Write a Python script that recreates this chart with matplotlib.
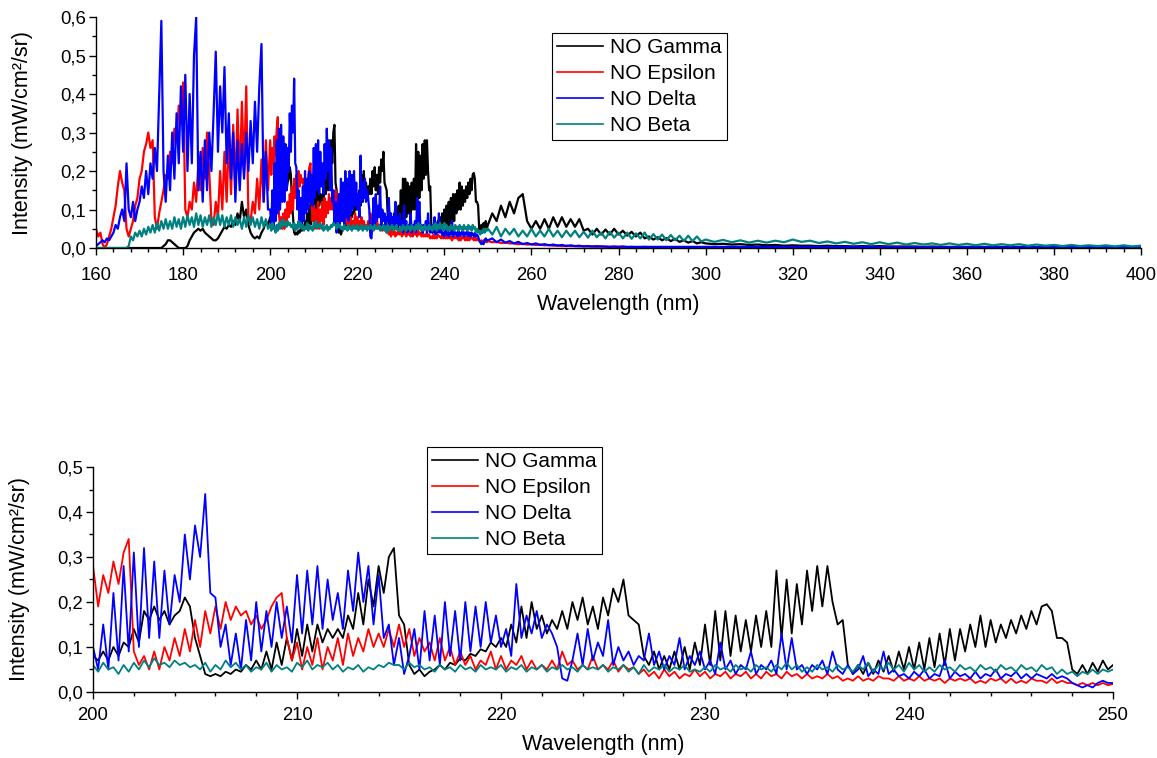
import numpy as np
import matplotlib.pyplot as plt
from matplotlib.ticker import MultipleLocator, FuncFormatter

plt.rcParams['font.family'] = ['Liberation Sans', 'DejaVu Sans']

# wavelength sampling of the read-off values (nm)
wl_a = np.arange(160, 200, 0.5)     # 80 values
wl_b = np.arange(200, 250, 0.25)    # 200 values
wl_c = np.arange(250, 300, 1.0)     # 50 values
wl_d = np.arange(300, 401, 2.0)     # 51 values

# NO Gamma
gamma_a = [0, 0, 0, 0, 0, 0, 0, 0, 0, 0, 0, 0, 0, 0, 0, 0, 0, 0, 0, 0,
           0, 0, 0, 0, 0, 0, 0, 0, 0, 0, 0, 0.005, 0.01, 0.02, 0.02, 0.015, 0.01, 0.005, 0, 0,
           0, 0, 0.005, 0.02, 0.03, 0.04, 0.045, 0.05, 0.045, 0.05, 0.04, 0.035, 0.03, 0.025, 0.02, 0.02, 0.025, 0.035, 0.045, 0.055,
           0.05, 0.06, 0.055, 0.07, 0.06, 0.09, 0.07, 0.12, 0.08, 0.10, 0.06, 0.04, 0.03, 0.025, 0.03, 0.025, 0.04, 0.05, 0.07, 0.06]
gamma_b = [0.08, 0.07, 0.09, 0.07, 0.10, 0.08, 0.11, 0.10, 0.14, 0.11, 0.18, 0.16, 0.19, 0.16, 0.18, 0.15, 0.17, 0.18, 0.21, 0.19,
           0.12, 0.08, 0.04, 0.035, 0.04, 0.035, 0.045, 0.04, 0.05, 0.045, 0.06, 0.05, 0.07, 0.05, 0.09, 0.05, 0.11, 0.06, 0.12, 0.07,
           0.14, 0.08, 0.15, 0.09, 0.15, 0.11, 0.14, 0.12, 0.14, 0.12, 0.17, 0.14, 0.22, 0.15, 0.25, 0.19, 0.28, 0.22, 0.30, 0.32,
           0.17, 0.15, 0.06, 0.04, 0.05, 0.035, 0.045, 0.05, 0.06, 0.05, 0.065, 0.06, 0.075, 0.07, 0.085, 0.08, 0.095, 0.09, 0.11, 0.10,
           0.12, 0.10, 0.15, 0.11, 0.19, 0.12, 0.20, 0.14, 0.17, 0.13, 0.16, 0.14, 0.18, 0.14, 0.20, 0.16, 0.21, 0.15, 0.19, 0.14,
           0.21, 0.17, 0.23, 0.20, 0.25, 0.17, 0.16, 0.15, 0.08, 0.06, 0.09, 0.05, 0.08, 0.05, 0.09, 0.05, 0.10, 0.05, 0.11, 0.06,
           0.15, 0.06, 0.18, 0.07, 0.18, 0.08, 0.17, 0.09, 0.16, 0.09, 0.17, 0.10, 0.18, 0.10, 0.27, 0.12, 0.25, 0.13, 0.24, 0.15,
           0.27, 0.18, 0.28, 0.19, 0.28, 0.20, 0.15, 0.16, 0.06, 0.04, 0.06, 0.04, 0.065, 0.04, 0.07, 0.045, 0.08, 0.045, 0.09, 0.05,
           0.10, 0.05, 0.11, 0.05, 0.12, 0.055, 0.13, 0.06, 0.14, 0.07, 0.14, 0.09, 0.15, 0.10, 0.17, 0.10, 0.16, 0.11, 0.15, 0.12,
           0.16, 0.13, 0.17, 0.14, 0.18, 0.15, 0.19, 0.195, 0.18, 0.12, 0.12, 0.11, 0.05, 0.04, 0.06, 0.04, 0.065, 0.045, 0.07, 0.05]
gamma_c = [0.06, 0.09, 0.07, 0.11, 0.08, 0.12, 0.09, 0.13, 0.14, 0.07,
           0.05, 0.07, 0.05, 0.075, 0.05, 0.08, 0.055, 0.08, 0.055, 0.075,
           0.055, 0.075, 0.045, 0.05, 0.035, 0.05, 0.035, 0.048, 0.035, 0.05,
           0.035, 0.045, 0.032, 0.042, 0.03, 0.04, 0.025, 0.03, 0.022, 0.028,
           0.02, 0.026, 0.018, 0.024, 0.016, 0.02, 0.014, 0.018, 0.012, 0.015]
gamma_d = [0.012, 0.01, 0.011, 0.009, 0.01, 0.008, 0.009, 0.007, 0.008, 0.006,
           0.007, 0.006, 0.006, 0.005, 0.006, 0.005, 0.005, 0.004, 0.005, 0.004,
           0.005, 0.004, 0.004, 0.004, 0.004, 0.003, 0.004, 0.003, 0.003, 0.003,
           0.003, 0.003, 0.003, 0.003, 0.003, 0.002, 0.003, 0.002, 0.002, 0.002,
           0.002, 0.002, 0.002, 0.002, 0.002, 0.002, 0.002, 0.002, 0.002, 0.002,
           0.002]

# NO Epsilon
eps_a = [0.05, 0.03, 0.04, 0.01, 0.0, 0.01, 0.03, 0.05, 0.08, 0.11, 0.16, 0.2, 0.17, 0.15, 0.05, 0.03, 0.05, 0.07, 0.11, 0.13,
         0.18, 0.2, 0.25, 0.27, 0.3, 0.26, 0.28, 0.08, 0.05, 0.09, 0.12, 0.15, 0.19, 0.18, 0.25, 0.22, 0.31, 0.28, 0.37, 0.33,
         0.43, 0.1, 0.08, 0.12, 0.1, 0.17, 0.12, 0.22, 0.15, 0.26, 0.18, 0.3, 0.2, 0.07, 0.06, 0.12, 0.08, 0.2, 0.1, 0.25,
         0.12, 0.29, 0.14, 0.32, 0.15, 0.36, 0.17, 0.38, 0.2, 0.42, 0.08, 0.07, 0.12, 0.09, 0.18, 0.1, 0.23, 0.12, 0.28, 0.15]
eps_b = [0.28, 0.19, 0.26, 0.22, 0.29, 0.24, 0.31, 0.34, 0.09, 0.06, 0.08, 0.05, 0.09, 0.05, 0.10, 0.07, 0.12, 0.08, 0.14, 0.09,
         0.16, 0.10, 0.18, 0.13, 0.19, 0.14, 0.20, 0.16, 0.19, 0.17, 0.18, 0.15, 0.17, 0.14, 0.16, 0.19, 0.21, 0.22, 0.12, 0.07,
         0.11, 0.05, 0.10, 0.06, 0.12, 0.05, 0.10, 0.07, 0.12, 0.06, 0.13, 0.08, 0.12, 0.09, 0.14, 0.10, 0.13, 0.10, 0.14, 0.10,
         0.15, 0.10, 0.14, 0.08, 0.12, 0.09, 0.11, 0.07, 0.12, 0.07, 0.10, 0.06, 0.09, 0.06, 0.08, 0.05, 0.07, 0.06, 0.09, 0.05,
         0.08, 0.05, 0.07, 0.06, 0.08, 0.05, 0.07, 0.05, 0.06, 0.05, 0.07, 0.05, 0.09, 0.06, 0.07, 0.05, 0.06, 0.05, 0.08, 0.05,
         0.06, 0.05, 0.07, 0.045, 0.06, 0.05, 0.055, 0.04, 0.05, 0.035, 0.045, 0.03, 0.05, 0.035, 0.045, 0.03, 0.04, 0.035, 0.05, 0.035,
         0.045, 0.03, 0.04, 0.035, 0.045, 0.03, 0.04, 0.035, 0.045, 0.03, 0.04, 0.03, 0.045, 0.035, 0.04, 0.03, 0.045, 0.035, 0.04, 0.03,
         0.04, 0.03, 0.035, 0.03, 0.04, 0.03, 0.035, 0.025, 0.03, 0.025, 0.035, 0.025, 0.03, 0.025, 0.035, 0.03, 0.03, 0.025, 0.035, 0.025,
         0.03, 0.025, 0.035, 0.025, 0.03, 0.025, 0.03, 0.02, 0.03, 0.025, 0.03, 0.025, 0.03, 0.02, 0.025, 0.02, 0.03, 0.025, 0.03, 0.02,
         0.03, 0.02, 0.025, 0.02, 0.03, 0.025, 0.025, 0.02, 0.03, 0.02, 0.025, 0.02, 0.02, 0.015, 0.02, 0.015, 0.02, 0.015, 0.02, 0.015]
eps_c = [0.018, 0.015, 0.016, 0.013, 0.014, 0.012, 0.012, 0.01, 0.011, 0.009,
         0.01, 0.008, 0.009, 0.007, 0.008, 0.006, 0.007, 0.005, 0.006, 0.005,
         0.005, 0.004, 0.005, 0.004, 0.004, 0.003, 0.004, 0.003, 0.003, 0.003,
         0.003, 0.003, 0.002, 0.003, 0.002, 0.002, 0.003, 0.002, 0.002, 0.002,
         0.002, 0.002, 0.002, 0.002, 0.002, 0.002, 0.002, 0.002, 0.002, 0.002]
eps_d = [0.002, 0.002, 0.002, 0.002, 0.002, 0.002, 0.002, 0.002, 0.002, 0.002,
         0.002, 0.002, 0.002, 0.002, 0.002, 0.002, 0.002, 0.002, 0.002, 0.002,
         0.002, 0.002, 0.002, 0.002, 0.002, 0.002, 0.002, 0.002, 0.002, 0.002,
         0.001, 0.001, 0.001, 0.001, 0.001, 0.001, 0.001, 0.001, 0.001, 0.001,
         0.001, 0.001, 0.001, 0.001, 0.001, 0.001, 0.001, 0.001, 0.001, 0.001,
         0.001]

# NO Delta
delta_a = [0.005, 0.01, 0.015, 0.02, 0.015, 0.025, 0.02, 0.03, 0.04, 0.06, 0.05, 0.08, 0.10, 0.07, 0.22, 0.10, 0.08, 0.12, 0.07, 0.10,
           0.12, 0.16, 0.13, 0.20, 0.14, 0.22, 0.18, 0.26, 0.20, 0.40, 0.59, 0.20, 0.12, 0.24, 0.15, 0.30, 0.18, 0.35, 0.22, 0.42,
           0.25, 0.45, 0.20, 0.40, 0.22, 0.50, 0.60, 0.15, 0.25, 0.12, 0.28, 0.15, 0.30, 0.20, 0.35, 0.51, 0.25, 0.42, 0.30, 0.47,
           0.22, 0.35, 0.18, 0.30, 0.12, 0.28, 0.15, 0.27, 0.18, 0.30, 0.20, 0.33, 0.22, 0.38, 0.25, 0.42, 0.53, 0.12, 0.25, 0.10]
delta_b = [0.10, 0.05, 0.15, 0.05, 0.22, 0.07, 0.28, 0.09, 0.31, 0.10, 0.32, 0.12, 0.29, 0.12, 0.27, 0.15, 0.26, 0.20, 0.35, 0.25,
           0.37, 0.30, 0.44, 0.22, 0.21, 0.10, 0.15, 0.06, 0.13, 0.05, 0.16, 0.07, 0.20, 0.09, 0.18, 0.10, 0.20, 0.12, 0.19, 0.11,
           0.26, 0.13, 0.27, 0.15, 0.28, 0.14, 0.25, 0.16, 0.22, 0.14, 0.27, 0.18, 0.31, 0.20, 0.28, 0.15, 0.26, 0.12, 0.15, 0.06,
           0.12, 0.04, 0.08, 0.14, 0.05, 0.18, 0.07, 0.17, 0.06, 0.20, 0.08, 0.18, 0.07, 0.20, 0.09, 0.19, 0.10, 0.20, 0.11, 0.17,
           0.10, 0.14, 0.08, 0.24, 0.12, 0.17, 0.13, 0.18, 0.12, 0.15, 0.13, 0.10, 0.03, 0.025, 0.07, 0.13, 0.06, 0.14, 0.07, 0.11,
           0.08, 0.16, 0.06, 0.10, 0.07, 0.09, 0.06, 0.08, 0.07, 0.13, 0.06, 0.09, 0.05, 0.08, 0.06, 0.12, 0.05, 0.08, 0.06, 0.09,
           0.05, 0.07, 0.04, 0.11, 0.05, 0.07, 0.04, 0.06, 0.05, 0.09, 0.04, 0.06, 0.05, 0.07, 0.04, 0.13, 0.05, 0.12, 0.05, 0.06,
           0.04, 0.06, 0.05, 0.07, 0.04, 0.09, 0.05, 0.04, 0.06, 0.04, 0.05, 0.08, 0.035, 0.05, 0.04, 0.09, 0.04, 0.05, 0.035, 0.04,
           0.03, 0.045, 0.035, 0.05, 0.03, 0.04, 0.035, 0.07, 0.03, 0.045, 0.035, 0.04, 0.03, 0.045, 0.03, 0.04, 0.035, 0.05, 0.03, 0.04,
           0.035, 0.045, 0.03, 0.04, 0.03, 0.04, 0.035, 0.03, 0.04, 0.03, 0.035, 0.03, 0.02, 0.015, 0.01, 0.015, 0.01, 0.02, 0.025, 0.02]
delta_c = [0.02, 0.025, 0.015, 0.022, 0.014, 0.018, 0.012, 0.016, 0.01, 0.013,
           0.009, 0.012, 0.008, 0.01, 0.007, 0.009, 0.006, 0.008, 0.005, 0.007,
           0.005, 0.006, 0.004, 0.005, 0.004, 0.005, 0.004, 0.004, 0.003, 0.004,
           0.003, 0.004, 0.003, 0.003, 0.003, 0.003, 0.003, 0.003, 0.003, 0.003,
           0.003, 0.003, 0.003, 0.003, 0.003, 0.003, 0.003, 0.003, 0.003, 0.003]
delta_d = [0.003, 0.003, 0.003, 0.003, 0.003, 0.003, 0.003, 0.003, 0.003, 0.003,
           0.003, 0.003, 0.003, 0.003, 0.003, 0.003, 0.003, 0.003, 0.003, 0.003,
           0.002, 0.002, 0.002, 0.002, 0.002, 0.002, 0.002, 0.002, 0.002, 0.002,
           0.002, 0.002, 0.002, 0.002, 0.002, 0.002, 0.002, 0.002, 0.002, 0.002,
           0.002, 0.002, 0.002, 0.002, 0.002, 0.002, 0.002, 0.002, 0.002, 0.002,
           0.002]

# NO Beta
beta_a = [0, 0, 0, 0, 0, 0, 0, 0, 0, 0, 0, 0, 0, 0, 0, 0.005, 0.03, 0.02, 0.04, 0.03,
          0.045, 0.03, 0.05, 0.035, 0.055, 0.04, 0.06, 0.04, 0.065, 0.045, 0.07, 0.05, 0.075, 0.05, 0.07, 0.05, 0.08, 0.055, 0.075, 0.05,
          0.08, 0.055, 0.085, 0.06, 0.08, 0.055, 0.09, 0.06, 0.085, 0.055, 0.08, 0.06, 0.085, 0.055, 0.08, 0.06, 0.09, 0.06, 0.085, 0.055,
          0.08, 0.06, 0.085, 0.055, 0.08, 0.06, 0.075, 0.05, 0.08, 0.055, 0.085, 0.06, 0.08, 0.055, 0.075, 0.05, 0.08, 0.055, 0.075, 0.05]
beta_b = [0.06, 0.045, 0.065, 0.05, 0.055, 0.04, 0.06, 0.045, 0.065, 0.05, 0.07, 0.055, 0.075, 0.06, 0.065, 0.055, 0.07, 0.06, 0.065, 0.055,
          0.06, 0.05, 0.065, 0.045, 0.06, 0.05, 0.07, 0.055, 0.065, 0.05, 0.06, 0.045, 0.055, 0.05, 0.065, 0.045, 0.06, 0.05, 0.055, 0.045,
          0.065, 0.055, 0.07, 0.05, 0.06, 0.055, 0.065, 0.05, 0.06, 0.045, 0.055, 0.05, 0.06, 0.045, 0.055, 0.05, 0.06, 0.055, 0.065, 0.06,
          0.06, 0.05, 0.065, 0.055, 0.06, 0.05, 0.055, 0.045, 0.06, 0.05, 0.055, 0.045, 0.06, 0.05, 0.055, 0.045, 0.06, 0.05, 0.055, 0.05,
          0.06, 0.045, 0.055, 0.05, 0.06, 0.045, 0.055, 0.05, 0.06, 0.045, 0.055, 0.05, 0.06, 0.05, 0.055, 0.045, 0.06, 0.05, 0.055, 0.05,
          0.06, 0.045, 0.055, 0.05, 0.06, 0.045, 0.055, 0.04, 0.06, 0.045, 0.055, 0.05, 0.06, 0.045, 0.055, 0.05, 0.06, 0.045, 0.05, 0.045,
          0.055, 0.045, 0.06, 0.05, 0.055, 0.045, 0.06, 0.05, 0.055, 0.045, 0.06, 0.05, 0.055, 0.045, 0.06, 0.05, 0.065, 0.05, 0.06, 0.045,
          0.055, 0.045, 0.06, 0.05, 0.055, 0.045, 0.06, 0.05, 0.055, 0.045, 0.06, 0.05, 0.065, 0.045, 0.06, 0.05, 0.065, 0.05, 0.06, 0.045,
          0.065, 0.05, 0.06, 0.045, 0.055, 0.045, 0.06, 0.05, 0.055, 0.045, 0.06, 0.05, 0.055, 0.045, 0.06, 0.05, 0.055, 0.045, 0.06, 0.05,
          0.055, 0.045, 0.06, 0.05, 0.055, 0.045, 0.06, 0.05, 0.055, 0.04, 0.05, 0.04, 0.045, 0.035, 0.045, 0.04, 0.05, 0.04, 0.05, 0.045]
beta_c = [0.05, 0.035, 0.055, 0.03, 0.05, 0.035, 0.05, 0.03, 0.045, 0.03,
          0.05, 0.03, 0.045, 0.03, 0.05, 0.03, 0.045, 0.028, 0.045, 0.03,
          0.045, 0.028, 0.042, 0.027, 0.045, 0.028, 0.04, 0.025, 0.042, 0.027,
          0.04, 0.025, 0.04, 0.024, 0.038, 0.025, 0.04, 0.022, 0.036, 0.022,
          0.035, 0.02, 0.034, 0.02, 0.032, 0.018, 0.032, 0.018, 0.03, 0.017]
beta_d = [0.022, 0.016, 0.021, 0.015, 0.02, 0.014, 0.019, 0.014, 0.019, 0.015,
          0.022, 0.016, 0.019, 0.013, 0.017, 0.012, 0.016, 0.011, 0.015, 0.01,
          0.015, 0.01, 0.014, 0.009, 0.013, 0.009, 0.012, 0.008, 0.012, 0.008,
          0.011, 0.007, 0.011, 0.007, 0.01, 0.007, 0.01, 0.006, 0.009, 0.006,
          0.008, 0.005, 0.008, 0.005, 0.007, 0.005, 0.007, 0.004, 0.007, 0.004,
          0.006]

wavelength = np.concatenate([wl_a, wl_b, wl_c, wl_d])
series = [
    ('NO Gamma', gamma_a + gamma_b + gamma_c + gamma_d, '#000000'),
    ('NO Epsilon', eps_a + eps_b + eps_c + eps_d, '#ff0000'),
    ('NO Delta', delta_a + delta_b + delta_c + delta_d, '#0000ff'),
    ('NO Beta', beta_a + beta_b + beta_c + beta_d, '#008080'),
]

comma = FuncFormatter(lambda v, p: f"{v:.1f}".replace('.', ','))

fig = plt.figure(figsize=(11.57, 7.58), dpi=100)
ax1 = fig.add_axes([0.0830, 0.6728, 0.9032, 0.3047])
ax2 = fig.add_axes([0.0804, 0.0871, 0.8816, 0.2968])

for name, vals, col in series:
    ax1.plot(wavelength, vals, color=col, lw=1.6, label=name)
    ax2.plot(wavelength, vals, color=col, lw=1.3, label=name)

ax1.set_xlim(160, 400)
ax1.set_ylim(0, 0.6)
ax1.xaxis.set_major_locator(MultipleLocator(20))
ax1.xaxis.set_minor_locator(MultipleLocator(4))

ax2.set_xlim(200, 250)
ax2.set_ylim(0, 0.5)
ax2.xaxis.set_major_locator(MultipleLocator(10))
ax2.xaxis.set_minor_locator(MultipleLocator(2))

for ax in (ax1, ax2):
    ax.yaxis.set_major_locator(MultipleLocator(0.1))
    ax.yaxis.set_minor_locator(MultipleLocator(0.05))
    ax.yaxis.set_major_formatter(comma)
    ax.spines['top'].set_visible(False)
    ax.spines['right'].set_visible(False)
    for s in ('left', 'bottom'):
        ax.spines[s].set_linewidth(1.0)
    ax.tick_params(which='major', direction='out', length=5, width=1, labelsize=13.3)
    ax.tick_params(axis='y', which='major', pad=2)
    ax.tick_params(which='minor', direction='out', length=3, width=1)
    ax.set_ylabel('Intensity (mW/cm²/sr)', fontsize=15.5, labelpad=20)

ax1.tick_params(axis='x', which='major', pad=9)
ax2.tick_params(axis='x', which='major', pad=6)
ax1.set_xlabel('Wavelength (nm)', fontsize=15.5, labelpad=7)
ax2.set_xlabel('Wavelength (nm)', fontsize=15.5, labelpad=7)

leg_kw = dict(fontsize=15, loc='upper left', frameon=True, fancybox=False, framealpha=1,
              edgecolor='black', handlelength=2.2, handletextpad=0.35,
              labelspacing=0.33, borderpad=0.25, borderaxespad=0)
l1 = ax1.legend(bbox_to_anchor=(0.436, 0.931), **leg_kw)
l2 = ax2.legend(bbox_to_anchor=(0.327, 1.089), **leg_kw)
for lg in (l1, l2):
    lg.get_frame().set_linewidth(0.8)
    for h in lg.get_lines():
        h.set_linewidth(1.2)

fig.savefig('out.png', dpi=100)
